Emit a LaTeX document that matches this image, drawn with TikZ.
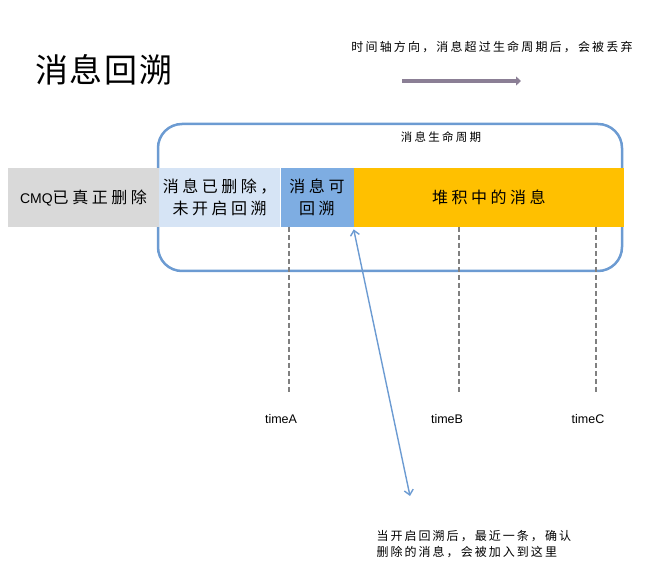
\documentclass[tikz,border=0pt]{standalone}
\usepackage{fontspec}
\setmainfont{Liberation Sans}
\newfontfamily\cjk{Noto Sans CJK SC}
\usetikzlibrary{positioning,arrows.meta}
\definecolor{lifeblue}{HTML}{6C9BD2}
\definecolor{delgrey}{HTML}{D9D9D9}
\definecolor{paleblue}{HTML}{D6E4F5}
\definecolor{midblue}{HTML}{7EADE2}
\definecolor{heaporange}{HTML}{FFC000}
\definecolor{timegrey}{HTML}{8B7F95}
\newcommand{\cjkat}[2]{\cjk\fontsize{#1}{#1}\selectfont\addfontfeature{LetterSpace=#2}}
\begin{document}
\begin{tikzpicture}[
        x=1pt, y=-1pt,
        seg/.style={rectangle, inner sep=0pt, minimum height=59pt, font=\cjkat{16}{22}, align=center, anchor=north west},
        tick/.style={draw=gray, line width=1.3pt, dash pattern=on 5pt off 3pt},
        timelbl/.style={font=\fontsize{12.5}{14}\selectfont},
        note/.style={font=\cjkat{12}{17}, align=left},
        node distance=0pt
    ]
    \useasboundingbox (0,0) rectangle (665,569);
    
    % title and time direction
    \node[font=\cjkat{33}{6}] (title) at (104,70) {消息回溯};
    \node[font=\cjkat{12}{18}] (dirtext) at (492,47) {时间轴方向，消息超过生命周期后，会被丢弃};
    \coordinate (dirA) at (402,81);
    \coordinate (dirB) at (521,81);
    \draw[timegrey, line width=3.5pt, -{Triangle[length=5pt, width=9pt]}] (dirA) -- (dirB);
    
    % life cycle frame
    \draw[lifeblue, line width=2.5pt, rounded corners=24pt] (158,124) rectangle (622,271);
    \node[font=\cjkat{11.5}{20}] (life) at (441,137) {消息生命周期};
    
    % message bar
    \node[seg, fill=delgrey, minimum width=150.5pt] (gone) at (8,168) {{\rmfamily\fontsize{14}{14}\selectfont CMQ}已真正删除};
    \node[seg, fill=paleblue, minimum width=121pt, right=of gone] (deleted) {消息已删除，\\[6pt]未开启回溯};
    \node[seg, fill=midblue, minimum width=73pt, right=of deleted] (rewind) {消息可\\[6pt]回溯};
    \node[seg, fill=heaporange, minimum width=270pt, right=of rewind] (heap) {堆积中的消息};
    
    % time marks
    \foreach \name/\xx/\lx in {A/289/281, B/459/447, C/596/588}{
        \coordinate (top\name) at (\xx,227);
        \coordinate (bot\name) at (\xx,392);
        \draw[tick] (top\name) -- (bot\name);
        \node[timelbl] (time\name) at (\lx,419) {time\name};
    }
    
    % rewind note
    \coordinate (noteend) at (410,496);
    \draw[lifeblue, line width=1.4pt, {Straight Barb[length=5pt, width=9pt]}-{Straight Barb[length=5pt, width=9pt]}] (rewind.south east) ++(0,2) -- (noteend);
    \node[note, anchor=north west] (notetext) at (373,527) {当开启回溯后，最近一条，确认\\[4pt]删除的消息，会被加入到这里};
    
\end{tikzpicture}
\end{document}
